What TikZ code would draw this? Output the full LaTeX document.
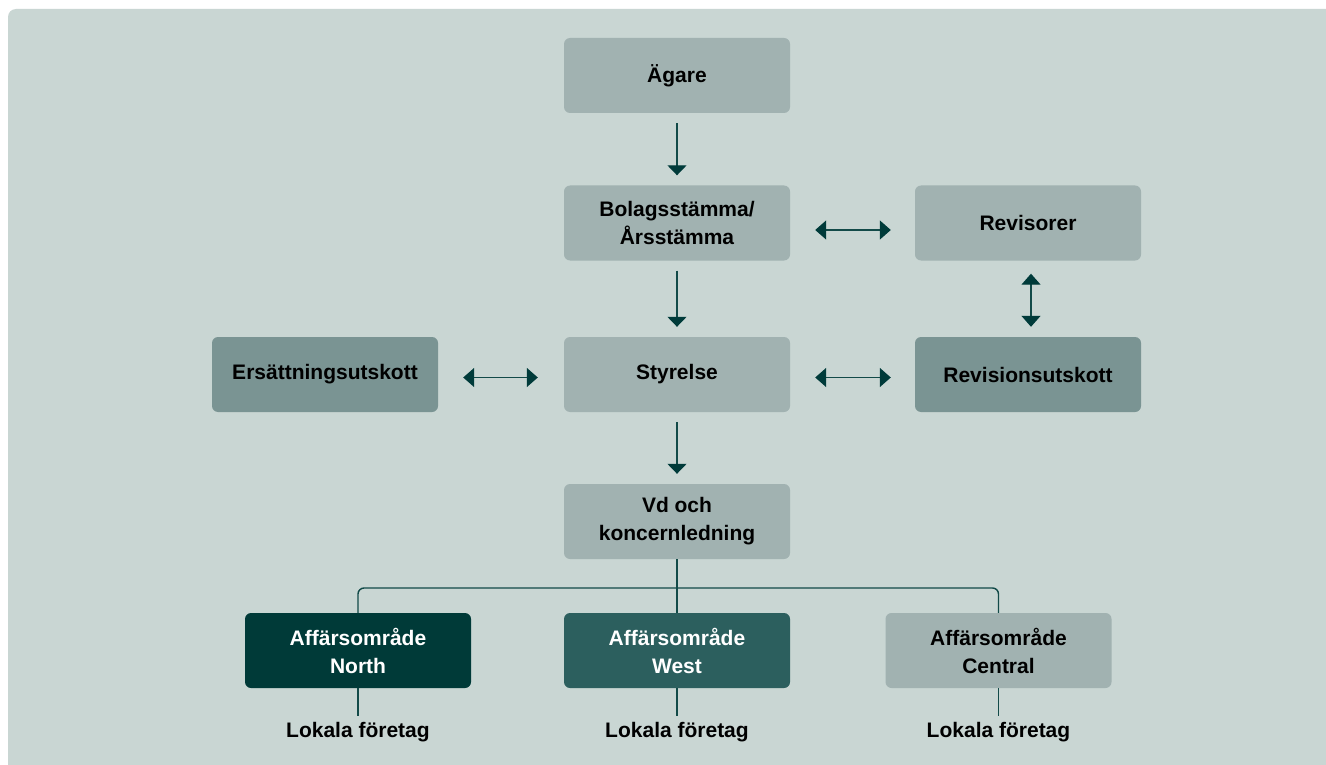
\documentclass[tikz,border=0pt]{standalone}
\usepackage{fontspec}
\setmainfont{Liberation Sans}
\usetikzlibrary{arrows.meta}
\definecolor{panel}{HTML}{C9D6D3}
\definecolor{boxlight}{HTML}{A1B2B1}
\definecolor{boxmid}{HTML}{7A9493}
\definecolor{boxdark}{HTML}{003A38}
\definecolor{boxteal}{HTML}{2C5F5E}
\definecolor{linec}{HTML}{124A48}
\definecolor{tipc}{HTML}{003B3A}
\begin{document}
\begin{tikzpicture}[x=1pt,y=-1pt,
  box/.style={rectangle, rounded corners=6pt, minimum width=226pt, minimum height=75pt,
    inner sep=0pt, align=center, font=\fontsize{21}{28}\selectfont\bfseries, text=black},
  light/.style={box, fill=boxlight},
  mid/.style={box, fill=boxmid},
  dark/.style={box, fill=boxdark, text=white},
  teal/.style={box, fill=boxteal, text=white},
  leaf/.style={inner sep=0pt, text height=15pt, text depth=4pt, font=\fontsize{21}{24}\selectfont\bfseries},
  conn/.style={draw=linec, line width=1.4pt},
  arr/.style={conn, -{Triangle[width=19pt,length=10pt,color=tipc]}},
  dbl/.style={conn, {Triangle[width=19pt,length=11pt,color=tipc]}-{Triangle[width=19pt,length=11pt,color=tipc]}}
]
\clip (0,0) rectangle (1326,765);
\fill[white] (0,0) rectangle (1326,765);
\fill[panel, rounded corners=8pt] (8,9) rectangle (1340,780);

\node[light] (agare) at (677,75.5) {Ägare};
\node[light] (bolag) at (677,223) {Bolagsstämma/\\Årsstämma};
\node[light] (rev) at (1028,223) {Revisorer};
\node[mid] (ers) at (325,374.5) {Ersättningsutskott};
\node[light] (sty) at (677,374.5) {Styrelse};
\node[mid] (revu) at (1028,374.5) {Revisionsutskott};
\node[light] (vd) at (677,521.5) {Vd och\\koncernledning};
\node[dark] (north) at (358,650.5) {Affärsområde\\North};
\node[teal] (west) at (677,650.5) {Affärsområde\\West};
\node[light] (central) at (998.5,650.5) {Affärsområde\\Central};
\node[leaf] (lokn) at (358,731.5) {Lokala företag};
\node[leaf] (lokw) at (677,731.5) {Lokala företag};
\node[leaf] (lokc) at (998.5,731.5) {Lokala företag};

\draw[arr, shorten <=10pt, shorten >=10pt] (agare) -- (bolag);
\draw[arr, shorten <=10pt, shorten >=10pt] (bolag) -- (sty);
\draw[arr, shorten <=10pt, shorten >=10pt] (sty) -- (vd);

\draw[dbl, shorten <=25pt, shorten >=24pt] ([yshift=-7pt]bolag.east) -- ([yshift=-7pt]rev.west);
\draw[dbl, shorten <=25pt, shorten >=24pt] ([yshift=-3pt]sty.east) -- ([yshift=-3pt]revu.west);
\draw[dbl, shorten <=25pt, shorten >=26pt] ([yshift=-3pt]ers.east) -- ([yshift=-3pt]sty.west);
\draw[dbl, shorten <=13pt, shorten >=10pt] ([xshift=3pt]rev.south) -- ([xshift=3pt]revu.north);

\coordinate (fork) at (677,588);
\draw[conn] (vd) -- (west);
\draw[conn, rounded corners=6pt] (north.north) |- (fork) -| (central.north);

\draw[conn, shorten >=6pt] (north) -- (lokn);
\draw[conn, shorten >=6pt] (west) -- (lokw);
\draw[conn, shorten >=6pt] (central) -- (lokc);
\end{tikzpicture}
\end{document}
